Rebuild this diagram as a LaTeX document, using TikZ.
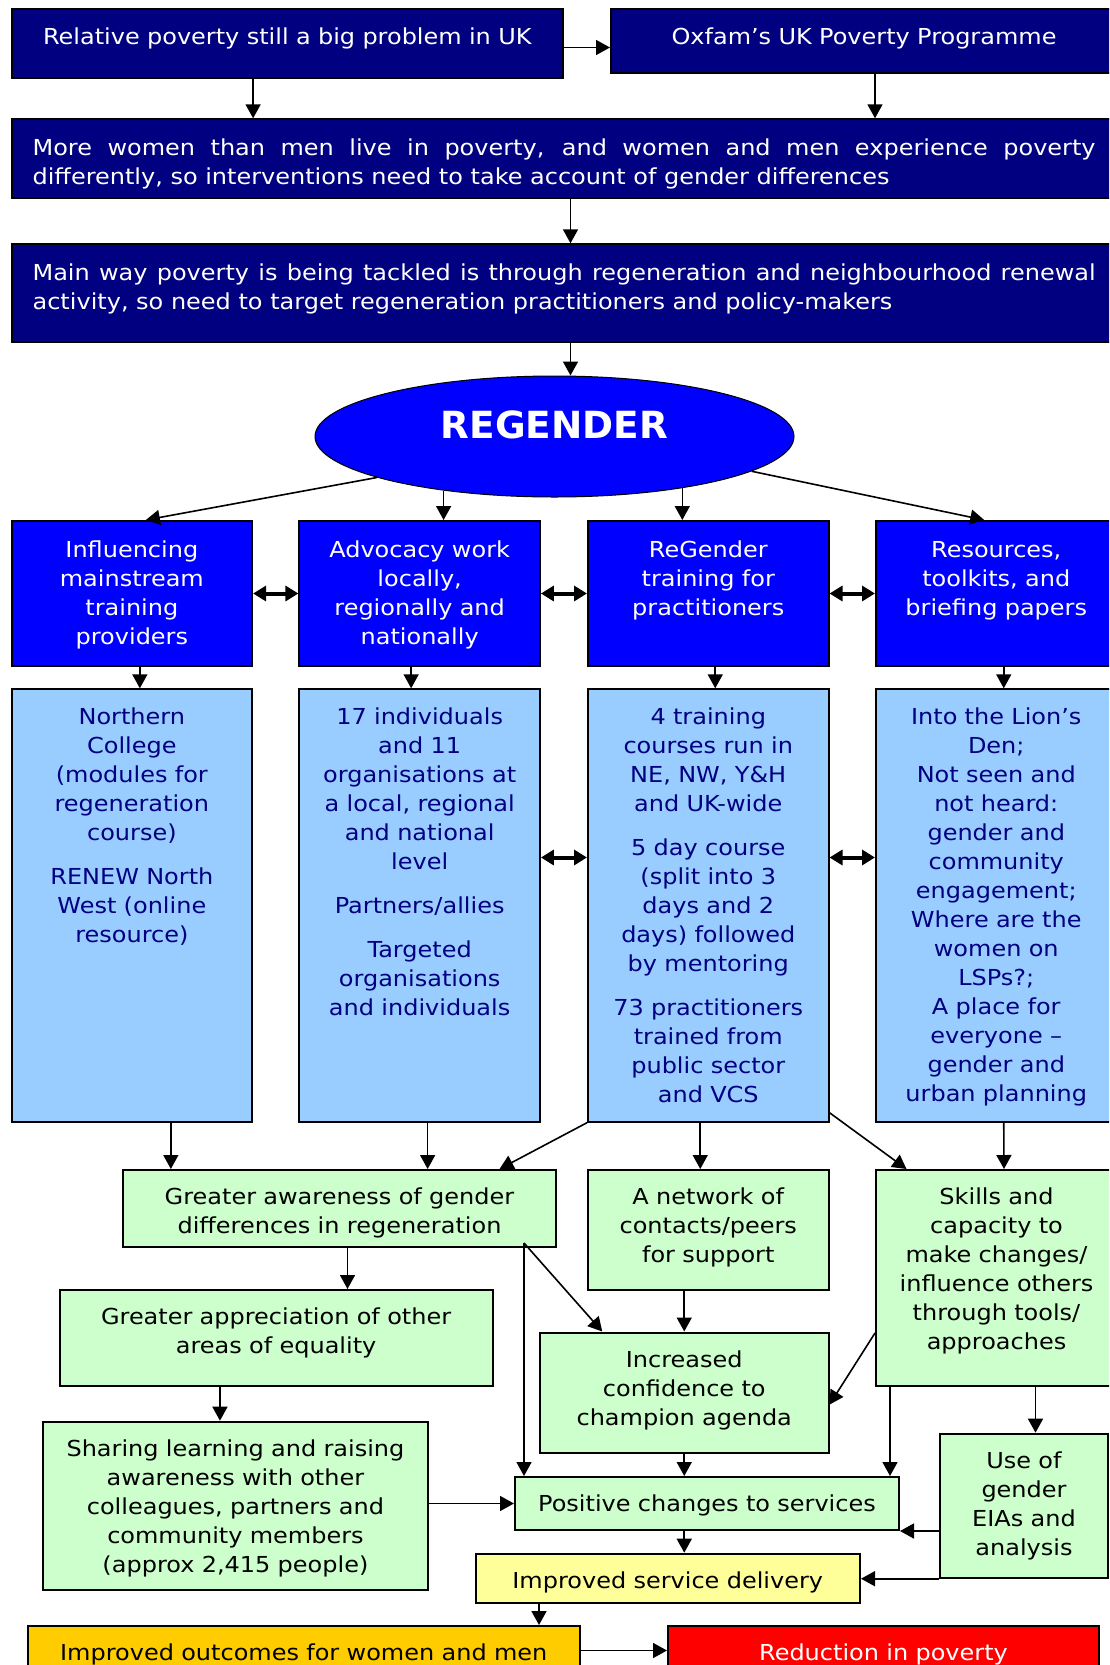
\documentclass[tikz,border=0pt]{standalone}
\usepackage{fontspec}
\setmainfont[FakeStretch=1.09]{DejaVu Sans}
\newfontfamily\titlefont{DejaVu Sans}
\usetikzlibrary{arrows.meta,shapes.geometric}

\definecolor{regnavy}{HTML}{000080}
\definecolor{regblue}{HTML}{0000FF}
\definecolor{reglight}{HTML}{99CCFF}
\definecolor{reggreen}{HTML}{CCFFCC}
\definecolor{regyellow}{HTML}{FFFF99}
\definecolor{regorange}{HTML}{FFCC00}
\definecolor{regred}{HTML}{FF0000}

\begin{document}
\begin{tikzpicture}[x=1pt,y=-1pt,font=\fontsize{22}{29}\selectfont,
    box/.style={draw=black,line width=2pt,anchor=north west,inner sep=0pt,align=center},
    darkbox/.style={box,fill=regnavy,text=white},
    topicbox/.style={box,fill=regblue,text=white,text width=240.5pt,text height=36.5pt,text depth=108.5pt},
    detailbox/.style={box,fill=reglight,text=regnavy,text width=240.5pt,text height=35pt,text depth=397.4pt},
    resultbox/.style={box,fill=reggreen,text height=34.5pt},
    arr/.style={-{Triangle[length=14pt,width=15pt]},line width=1.6pt},
    dbl/.style={{Triangle[length=13pt,width=15pt]}-{Triangle[length=13pt,width=15pt]},line width=4pt}]
    \clip (0,0) rectangle (1109,1665);

    \node[darkbox,text width=551.4pt,text height=35pt,text depth=33.4pt] (rel) at (10.6,8.3) {Relative poverty still a big problem in UK};
    \node[darkbox,text width=506pt,text height=35pt,text depth=28.4pt] (oxf) at (610,8.3) {Oxfam’s UK Poverty Programme};
    \node[darkbox,align=justify,inner xsep=21pt,text width=1063pt,text height=36.5pt,text depth=41.9pt] (more) at (10.6,118.3) {More women than men live in poverty, and women and men experience poverty\linebreak differently, so interventions need to take account of gender differences};
    \node[darkbox,align=justify,inner xsep=21pt,text width=1063pt,text height=36.5pt,text depth=60.9pt] (main) at (10.6,243.3) {Main way poverty is being tackled is through regeneration and neighbourhood renewal\linebreak activity, so need to target regeneration practitioners and policy-makers};

    \node[ellipse,draw=black,line width=1pt,fill=regblue,text=white,inner sep=0pt,minimum width=479pt,minimum height=121pt,font=\fontsize{37.4}{40}\titlefont\bfseries,text height=27pt,text depth=23pt] (reg) at (554.5,436.5) {REGENDER};

    \node[topicbox] (infl) at (10.6,520) {Influencing\\mainstream\\training\\providers};
    \node[topicbox] (adv) at (298.4,520) {Advocacy work\\locally,\\regionally and\\nationally};
    \node[topicbox] (trn) at (587,520) {ReGender\\training for\\practitioners};
    \node[topicbox] (res) at (875,520) {Resources,\\toolkits, and\\briefing papers};

    \node[detailbox] (college) at (10.6,688.3) {Northern\\College\\(modules for\\regeneration\\course)\\[15pt]RENEW North\\West (online\\resource)};
    \node[detailbox] (indiv) at (298.4,688.3) {17 individuals\\and 11\\organisations at\\a local, regional\\and national\\level\\[15pt]Partners/allies\\[15pt]Targeted\\organisations\\and individuals};
    \node[detailbox] (course) at (587,688.3) {4 training\\courses run in\\NE, NW, Y\&H\\and UK-wide\\[15pt]5 day course\\(split into 3\\days and 2\\days) followed\\by mentoring\\[15pt]73 practitioners\\trained from\\public sector\\and VCS};
    \node[detailbox] (lion) at (875,688.3) {Into the Lion’s\\Den;\\Not seen and\\not heard:\\gender and\\community\\engagement;\\Where are the\\women on\\LSPs?;\\A place for\\everyone --\\gender and\\urban planning};

    \node[resultbox,text width=433pt,text depth=42.5pt] (aware) at (122,1169) {Greater awareness of gender\\differences in regeneration};
    \node[resultbox,text width=240.5pt,text depth=85.5pt] (net) at (587,1169) {A network of\\contacts/peers\\for support};
    \node[resultbox,text width=241pt,text depth=181.5pt] (skills) at (875,1169) {Skills and\\capacity to\\make changes/\\influence others\\through tools/\\approaches};
    \node[resultbox,text width=432.8pt,text depth=61.5pt] (appr) at (58.7,1289) {Greater appreciation of other\\areas of equality};
    \node[resultbox,text width=288.5pt,text depth=85.7pt] (conf) at (539,1331.5) {Increased\\confidence to\\champion agenda};
    \node[resultbox,text width=384.1pt,text depth=134.1pt] (share) at (42.4,1420.7) {Sharing learning and raising\\awareness with other\\colleagues, partners and\\community members\\(approx 2,415 people)};
    \node[resultbox,text width=384pt,text depth=18.5pt] (pos) at (514,1476) {Positive changes to services};
    \node[resultbox,text width=168pt,text depth=109.5pt] (use) at (939,1432.7) {Use of\\gender\\EIAs and\\analysis};
    \node[resultbox,fill=regyellow,text width=384.5pt,text depth=14.5pt] (serv) at (474.5,1552.7) {Improved service delivery};
    \node[resultbox,fill=regorange,text width=551.5pt,text depth=14.5pt] (outc) at (27,1625) {Improved outcomes for women and men};
    \node[resultbox,fill=regred,text=white,text width=431pt,text depth=14.5pt] (red) at (667,1625) {Reduction in poverty};

    \draw[arr] ([yshift=-4pt]rel.east) -- ([yshift=-4pt]rel.east -| oxf.west);
    \draw[arr] (rel.south -| infl.east) -- (more.north -| infl.east);
    \draw[arr] (oxf.south -| res.west) -- (more.north -| res.west);
    \draw[arr] ([xshift=16pt]reg.north |- more.south) -- ([xshift=16pt]reg.north |- main.north);
    \draw[arr] ([xshift=16pt]reg.north |- main.south) -- ([xshift=16pt]reg.north);

    \draw[arr] (reg.193) -- ([xshift=14pt]infl.north);
    \draw[arr] (reg.206) -- (reg.206 |- adv.north);
    \draw[arr] (reg.338) -- (reg.338 |- trn.north);
    \draw[arr] (reg.350) -- ([xshift=-12pt]res.north);

    \foreach \a/\b in {infl/adv,adv/trn,trn/res}
        \draw[dbl] (\a.east) -- (\b.west);
    \foreach \a/\b in {indiv/course,course/lion}
        \draw[dbl] ([yshift=48pt]\a.east) -- ([yshift=48pt]\b.west);
    \foreach \a/\b/\s in {infl/college/8,adv/indiv/-8.5,trn/course/7,res/lion/7.5}
        \draw[arr] ([xshift=\s pt]\a.south) -- ([xshift=\s pt]\b.north);

    \draw[arr] ([xshift=39pt]college.south) -- ([xshift=39pt]college.south |- aware.north);
    \draw[arr] ([xshift=8pt]indiv.south) -- ([xshift=8pt]indiv.south |- aware.north);
    \draw[arr] (course.south west) -- ([xshift=160pt]aware.north);
    \draw[arr] ([xshift=-8pt]course.south) -- ([xshift=-8pt]net.north);
    \draw[arr] ([yshift=10pt]course.south east) -- ([xshift=-90pt]skills.north);
    \draw[arr] ([xshift=7.5pt]lion.south) -- ([xshift=7.5pt]skills.north);

    \draw[arr] ([xshift=8pt]aware.south) -- ([xshift=8pt]aware.south |- appr.north);
    \draw[arr] ([xshift=-33pt,yshift=5pt]aware.south east) -- ([xshift=-82pt]conf.north);
    \draw[arr] ([xshift=-33pt,yshift=5pt]aware.south east) -- ([xshift=-33pt]aware.south east |- pos.north);
    \draw[arr] (conf.north |- net.south) -- (conf.north);
    \draw[arr] ([yshift=-55pt]skills.west) -- ([yshift=-12pt]conf.east);
    \draw[arr] ([xshift=15pt]skills.south west) -- ([xshift=15pt]skills.south west |- pos.north);
    \draw[arr] ([xshift=11.5pt]use.north |- skills.south) -- ([xshift=11.5pt]use.north);
    \draw[arr] ([xshift=-15.5pt]share.north |- appr.south) -- ([xshift=-15.5pt]share.north);
    \draw[arr] (share.east |- pos.west) -- (pos.west);
    \draw[arr] (conf.south) -- (conf.south |- pos.north);
    \draw[arr] (use.west |- pos.south east) -- (pos.south east);
    \draw[arr] (pos.south -| conf.south) -- (serv.north -| conf.south);
    \draw[arr] (use.south west) -- (use.south west -| serv.east);
    \draw[arr] ([xshift=64.5pt]serv.south west) -- ([xshift=64.5pt]serv.south west |- outc.north);
    \draw[arr] (outc.east) -- (red.west);
\end{tikzpicture}
\end{document}
